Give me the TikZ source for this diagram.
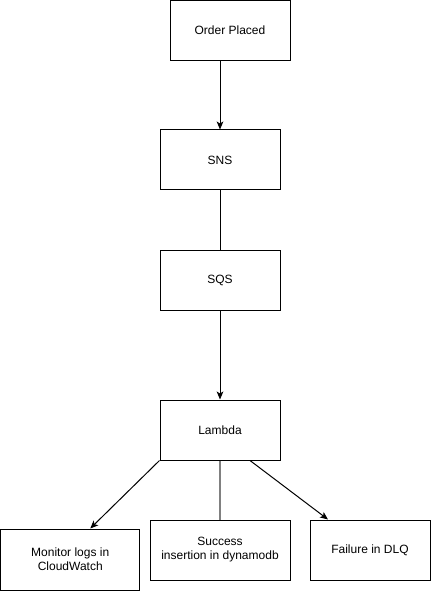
\documentclass[tikz,border=0pt]{standalone}
\usepackage{fontspec}
\setmainfont{Liberation Sans}
\usetikzlibrary{arrows.meta}
\begin{document}
\begin{tikzpicture}[x=0.75pt,y=-0.75pt,
  box/.style={draw=black,line width=0.75pt,fill=white,inner sep=0pt,align=center,
    font=\fontsize{9}{10.5}\selectfont},
  arr/.style={draw=black,line width=0.75pt,-{Stealth[length=6pt,width=5pt,inset=1.5pt]}},
  plain/.style={draw=black,line width=0.75pt},
  grayline/.style={draw=black!50,line width=1.5pt}]
\fill[white] (0,0) rectangle (431,591);
\useasboundingbox (0,0) rectangle (431,591);
\node[box,minimum width=90pt,minimum height=45pt] (order) at (230,30.5) {Order Placed};
\node[box,minimum width=90pt,minimum height=45pt] (sns) at (220,160) {SNS};
\node[box,minimum width=90pt,minimum height=45pt] (sqs) at (220,280) {SQS};
\node[box,minimum width=90pt,minimum height=45pt] (lambda) at (220,430) {Lambda};
\node[box,minimum width=104.6pt,minimum height=45.75pt] (monitor) at (70.25,559.5) {Monitor logs in\\CloudWatch};
\node[box,minimum width=105pt,minimum height=45pt] (success) at (220,550) {Success\\insertion in dynamodb};
\node[box,minimum width=90pt,minimum height=45pt] (failure) at (370,550) {Failure in DLQ};
\coordinate (monin) at ([xshift=15pt]monitor.north);
\coordinate (failin) at ([xshift=-31.5pt]failure.north);
\coordinate (lamout) at ([xshift=22.5pt]lambda.south);
\draw[arr] (sns.north |- order.south) -- (sns.north);
\draw[plain] (sns.south) -- (sqs.north);
\draw[arr] (sqs.south) -- (lambda.north);
\draw[arr] (lambda.south west) -- (monin);
\draw[grayline] (lambda.south) -- (success.north);
\draw[arr] (lamout) -- (failin);
\end{tikzpicture}
\end{document}
